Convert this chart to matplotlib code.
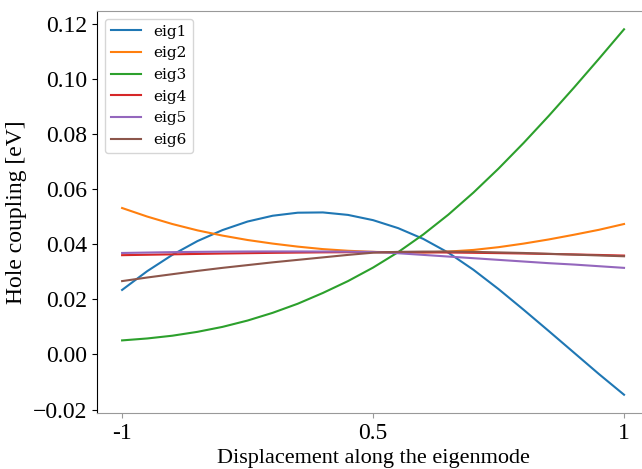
import matplotlib
matplotlib.use("Agg")
import matplotlib.pyplot as plt
import numpy as np

# displacement grid along the eigenmode (21 steps)
disp = np.linspace(-1, 1, 21)

eig1 = [0.0234, 0.0302, 0.0361, 0.0411, 0.0451, 0.0482, 0.0503, 0.0514, 0.0515, 0.0506,
        0.0487, 0.0458, 0.0419, 0.0369, 0.0307, 0.0237, 0.0162, 0.0085, 0.0007, -0.0071, -0.0146]
eig2 = [0.0531, 0.0500, 0.0473, 0.0450, 0.0431, 0.0415, 0.0402, 0.0391, 0.0382, 0.0376,
        0.0372, 0.0370, 0.0370, 0.0373, 0.0379, 0.0389, 0.0402, 0.0417, 0.0434, 0.0452, 0.0473]
eig3 = [0.0051, 0.0058, 0.0068, 0.0082, 0.0100, 0.0123, 0.0151, 0.0184, 0.0223, 0.0266,
        0.0315, 0.0371, 0.0435, 0.0507, 0.0587, 0.0674, 0.0767, 0.0865, 0.0967, 0.1072, 0.1179]
eig4 = [0.0360, 0.03615, 0.0363, 0.03645, 0.0366, 0.03672, 0.03684, 0.03694, 0.03702, 0.03708,
        0.0371, 0.03708, 0.03703, 0.03696, 0.03686, 0.03674, 0.0366, 0.03644, 0.03627, 0.03608, 0.03586]
eig5 = [0.0368, 0.03695, 0.0371, 0.0372, 0.03728, 0.03733, 0.03735, 0.03735, 0.03732, 0.03727,
        0.0372, 0.0367, 0.0361, 0.0355, 0.0349, 0.0343, 0.0337, 0.0331, 0.0326, 0.0320, 0.0314]
eig6 = [0.0266, 0.0279, 0.0291, 0.0303, 0.0314, 0.0324, 0.0334, 0.0343, 0.0352, 0.0361,
        0.0369, 0.0372, 0.0373, 0.0373, 0.0372, 0.0370, 0.0368, 0.0365, 0.0362, 0.0359, 0.0356]

series = [eig1, eig2, eig3, eig4, eig5, eig6]
names = ["eig1", "eig2", "eig3", "eig4", "eig5", "eig6"]

xtick_pos = [-1, 0, 1]
xtick_labels = ["-1", "0.5", "1"]

serif = "Liberation Serif"

fig = plt.figure(figsize=(6.42, 4.69), dpi=100)
ax = fig.add_axes([0.1511, 0.1194, 0.86, 0.8571])

for vals, name in zip(series, names):
    ax.plot(disp, vals, label=name, lw=1.5)

ax.set_xticks(xtick_pos)
ax.set_xticklabels(xtick_labels)
ax.tick_params(axis="both", labelsize=17)
for lbl in ax.get_xticklabels() + ax.get_yticklabels():
    lbl.set_fontfamily(serif)

# light frame on top/bottom, dark left spine
for side in ("top", "bottom"):
    ax.spines[side].set_color("#999999")
ax.tick_params(axis="x", color="#999999")

ax.set_xlabel("Displacement along the eigenmode", fontfamily=serif, fontsize=16)
ax.set_ylabel("Hole coupling [eV]", fontfamily=serif, fontsize=17)

ax.legend(loc="upper left", prop={"family": "DejaVu Serif", "size": 11})

fig.savefig("out.png", dpi=100)
